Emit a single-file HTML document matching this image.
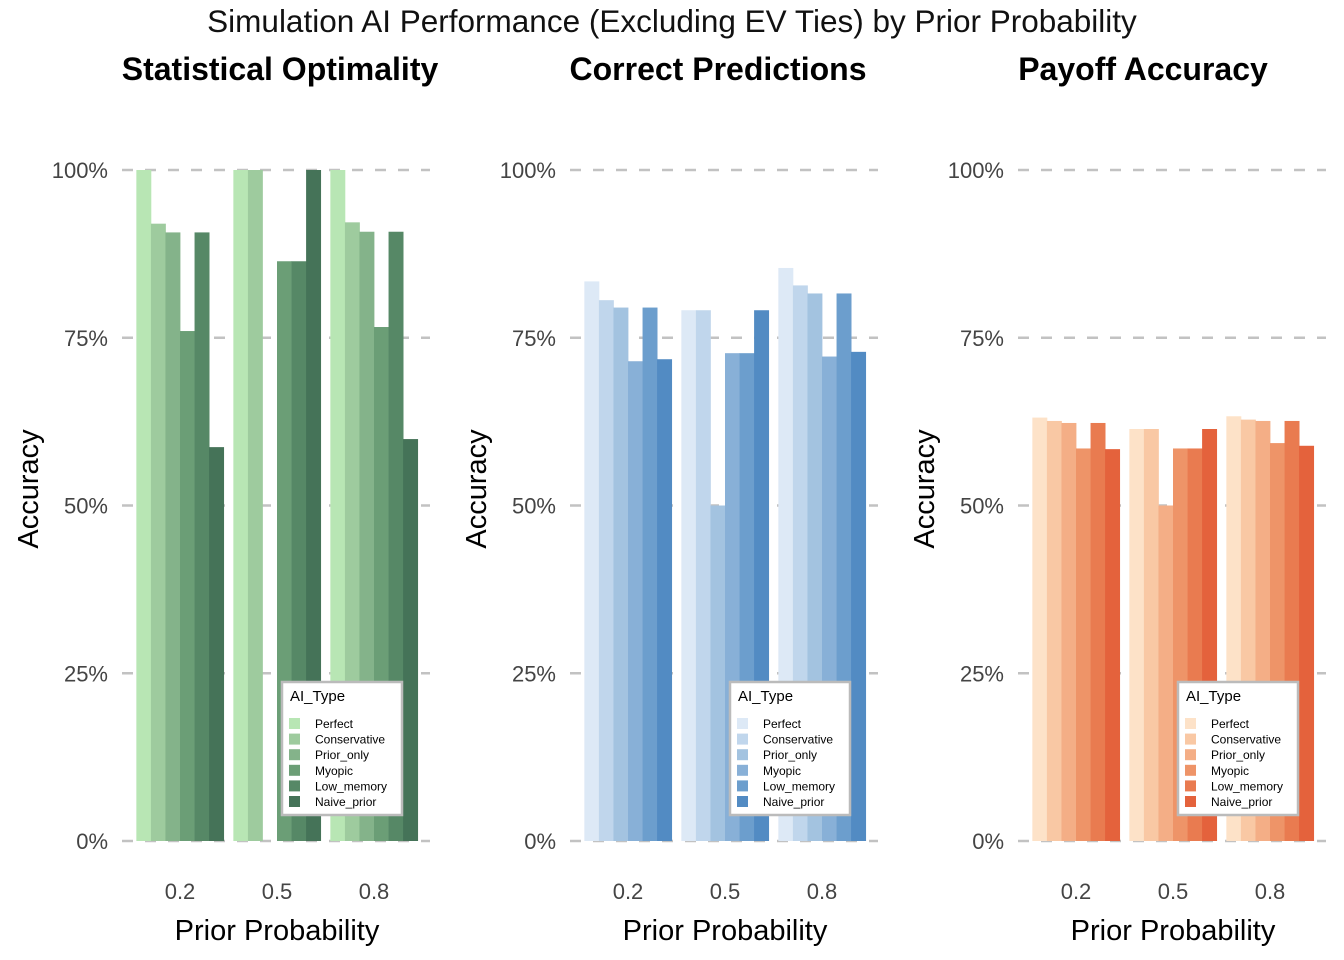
<!DOCTYPE html>
<html><head><meta charset="utf-8"><style>
body{margin:0;background:#fff;}
svg{display:block;font-family:"Liberation Sans",Arial,sans-serif;}
</style></head><body>
<svg id="chart" width="1344" height="960"></svg>
<script>
const categories = ["0.2","0.5","0.8"];
const aiTypes = ["Perfect","Conservative","Prior_only","Myopic","Low_memory","Naive_prior"];
const panelTitles = ["Statistical Optimality","Correct Predictions","Payoff Accuracy"];
const yTicks = [0,25,50,75,100];
const yTickLabels = ["0%","25%","50%","75%","100%"];
// values per panel: [category][aiType] in %
const statValues = [[100,92,90.7,76,90.7,58.7],[100,100,0,86.4,86.4,100],[100,92.2,90.8,76.6,90.8,59.9]];
const correctValues = [[83.4,80.6,79.5,71.5,79.5,71.8],[79.1,79.1,50,72.7,72.7,79.1],[85.4,82.8,81.6,72.2,81.6,72.9]];
const payoffValues = [[63.1,62.6,62.3,58.5,62.3,58.4],[61.4,61.4,50,58.5,58.5,61.4],[63.3,62.8,62.6,59.3,62.6,58.9]];
const greens = ["#b8e6b4","#9ecb9e","#84b38a","#6b9e76","#568866","#457358"];
const blues = ["#dde9f6","#c0d6ec","#a3c3e0","#88b0d7","#6c9ecd","#528bc3"];
const oranges = ["#fde2c8","#f9c8a4","#f4ae86","#ee9468","#e97b50","#e4623c"];

const NS="http://www.w3.org/2000/svg";
const svg=document.getElementById('chart');
function mk(tag,attrs,parent){const e=document.createElementNS(NS,tag);for(const k in attrs)e.setAttribute(k,attrs[k]);(parent||svg).appendChild(e);return e;}

const title=mk('text',{x:672,y:32,'text-anchor':'middle','font-size':31.5,fill:'#111'});
title.textContent="Simulation AI Performance (Excluding EV Ties) by Prior Probability";



const panels=[statValues,correctValues,payoffValues];
const palettes=[greens,blues,oranges];
const panelNames=["statistical-optimality","correct-predictions","payoff-accuracy"];
const titleOffsets=[158,148,125];
const y0=841,y100=170;
function yScale(v){return y0-(y100-y0)*-v/100;}
const barW=14.55, groupStep=97;

panels.forEach((vals,p)=>{
  const left=122+448*p;
  const g=mk('g',{});
  
  
  const t=mk('text',{x:left+titleOffsets[p],y:80,'text-anchor':'middle','font-size':32,'font-weight':'bold',fill:'#000'},g);
  t.textContent=panelTitles[p];
  
  
  yTicks.forEach((v,i)=>{
    const y=yScale(v);
    const ln=mk('line',{x1:left,x2:left+308,y1:y,y2:y,stroke:'#c2c2c2','stroke-width':2.6,'stroke-dasharray':'11,12'},g);
    
    
    const tl=mk('text',{x:left-14,y:y+8,'text-anchor':'end','font-size':22,fill:'#444'},g);
    tl.textContent=yTickLabels[i];
    
    
  });
  const yl=mk('text',{x:0,y:0,'text-anchor':'middle','font-size':29,fill:'#000',transform:`translate(${left-84},${489}) rotate(-90)`},g);
  yl.textContent="Accuracy";
  
  
  categories.forEach((c,ci)=>{
    const cx=left+58+groupStep*ci;
    vals[ci].forEach((v,ai)=>{
      const x=cx-3*barW+ai*barW;
      const r=mk('rect',{x:x,y:yScale(v),width:barW+0.4,height:Math.max(0,y0-yScale(v)),fill:palettes[p][ai]},g);
      
      
    });
    const xl=mk('text',{x:cx,y:899,'text-anchor':'middle','font-size':22,fill:'#444'},g);
    xl.textContent=c;
    
    
  });
  const xt=mk('text',{x:left+155,y:940,'text-anchor':'middle','font-size':29,fill:'#000'},g);
  xt.textContent="Prior Probability";
  
  
  // legend
  const lx=left+160, ly=682;
  const lg=mk('g',{},g);
  
  
  mk('rect',{x:lx,y:ly,width:120,height:133,fill:'#fff',stroke:'#bbb','stroke-width':2.5},lg);
  const lt=mk('text',{x:lx+8,y:ly+19,'font-size':15,fill:'#000'},lg);
  lt.textContent="AI_Type";
  aiTypes.forEach((n,ai)=>{
    const yy=ly+36+ai*15.6;
    const sw=mk('rect',{x:lx+7,y:yy,width:11,height:11,fill:palettes[p][ai]},lg);
    
    
    const tx=mk('text',{x:lx+33,y:yy+10,'font-size':12,fill:'#000'},lg);
    tx.textContent=n;
    
    
  });
});
</script>
</body></html>
